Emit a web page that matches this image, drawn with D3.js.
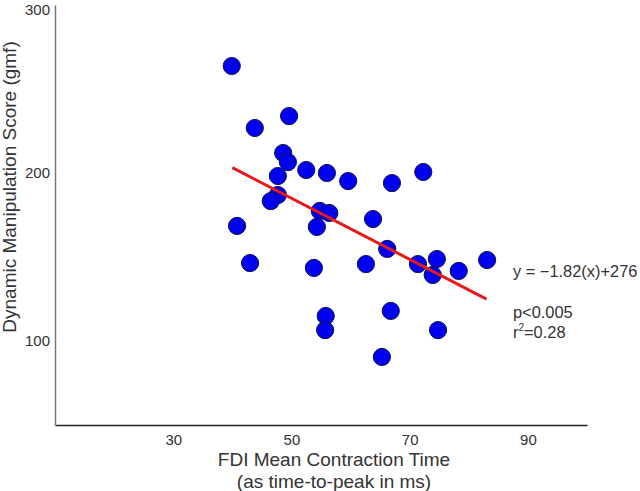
<!DOCTYPE html>
<html><head><meta charset="utf-8">
<script src="https://cdn.jsdelivr.net/npm/d3@7"></script>
<style>body{margin:0;background:#fff}svg{display:block}text{font-family:"Liberation Sans",Arial,sans-serif}</style>
</head><body><svg id="c" width="640" height="491"></svg>
<script>
const contractionTime = [39.9,43.8,49.6,48.6,49.4,52.5,56.0,47.7,47.7,46.5,40.8,43.0,53.8,54.8,56.4,54.3,59.6,67.0,72.3,63.8,66.2,62.6,71.4,74.6,73.9,78.3,83.1,55.8,55.7,66.8,74.8,65.3];
const manipulationScore = [263.7,226.8,233.9,211.9,206.5,201.8,200.0,198.2,186.9,183.3,168.5,146.4,143.5,177.4,176.2,167.9,195.2,194.0,200.6,172.6,154.8,145.8,145.8,148.8,139.3,141.7,148.2,114.9,106.5,117.9,106.5,90.5];
const xTicks = [30,50,70,90];
const yTicks = [100,200,300];
const fitSlope = -1.82, fitIntercept = 276, fitRange = [40, 83];
const annotations = ["y = \u22121.82(x)+276", "p<0.005", "r\u00b2=0.28"];

const svg = d3.select("#c");
const x = d3.scaleLinear().domain([10,100]).range([55,587]);
const y = d3.scaleLinear().domain([50,300]).range([425,5]);

// axes
const xa = svg.append("g").attr("transform","translate(0,425)")
  .call(d3.axisBottom(x).tickValues(xTicks).tickSize(0).tickPadding(9));
xa.select(".domain").attr("stroke","#222").attr("stroke-width",1.5);
xa.selectAll("text").attr("font-size",15).attr("fill","#333").style("font-family","Liberation Sans, Arial, sans-serif");
const ya = svg.append("g").attr("transform","translate(55,0)")
  .call(d3.axisLeft(y).tickValues(yTicks).tickSize(0).tickPadding(5));
ya.select(".domain").attr("stroke","#777").attr("stroke-width",1.5);
ya.selectAll("text").attr("font-size",15).attr("fill","#333").style("font-family","Liberation Sans, Arial, sans-serif");
ya.selectAll(".tick text").filter(d=>d===300).attr("dy","0.62em");

// points
const data = contractionTime.map((d,i)=>({x:d,y:manipulationScore[i]}));
svg.append("g").selectAll("circle").data(data).enter().append("circle")
  .attr("cx",d=>x(d.x)).attr("cy",d=>y(d.y)).attr("r",8.6)
  .attr("fill","#0000f0").attr("stroke","#10104a").attr("stroke-width",1);

// fit line
svg.append("line")
  .attr("x1",x(fitRange[0])).attr("y1",y(fitSlope*fitRange[0]+fitIntercept))
  .attr("x2",x(fitRange[1])).attr("y2",y(fitSlope*fitRange[1]+fitIntercept))
  .attr("stroke","#e41a1a").attr("stroke-width",3);

// annotations
const ann = svg.append("g").attr("font-size",16.4).attr("fill","#333");
ann.append("text").attr("x",513).attr("y",277).text(annotations[0]);
ann.append("text").attr("x",513).attr("y",318).text(annotations[1]);
const r2 = ann.append("text").attr("x",513).attr("y",338);
r2.append("tspan").text("r");
r2.append("tspan").attr("font-size",10).attr("dy",-7).text("2");
r2.append("tspan").attr("dy",7).text("=0.28");

// axis titles
svg.append("text").attr("x",334).attr("y",466).attr("text-anchor","middle")
  .attr("font-size",19).attr("fill","#333").text("FDI Mean Contraction Time");
svg.append("text").attr("x",334).attr("y",488).attr("text-anchor","middle")
  .attr("font-size",19).attr("fill","#333").text("(as time-to-peak in ms)");
svg.append("text").attr("transform","translate(16,187) rotate(-90)").attr("text-anchor","middle")
  .attr("font-size",19).attr("fill","#333").text("Dynamic Manipulation Score (gmf)");
</script></body></html>
